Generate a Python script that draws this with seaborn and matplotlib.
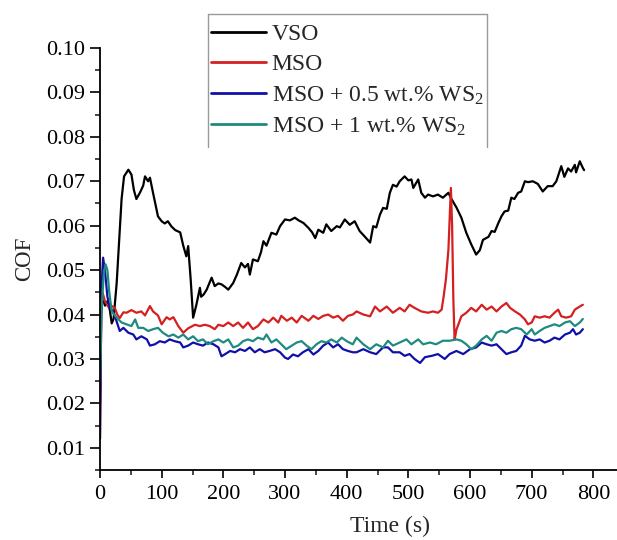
import numpy as np
import pandas as pd
import seaborn as sns
import matplotlib
matplotlib.use('Agg')
import matplotlib.pyplot as plt
from matplotlib.lines import Line2D
from matplotlib.ticker import MultipleLocator

# values (time in s, COF)
vso_t = [0, 2, 4, 8, 12, 16, 19, 22, 27, 35, 39, 46, 51, 55, 59, 65, 70, 73, 78, 81,
         86, 94, 100, 105, 110, 116, 122, 130, 135, 140, 143, 147, 151, 156, 162, 164, 168, 173, 181, 186,
         192, 197, 203, 208, 216, 222, 229, 235, 240, 243, 248, 256, 261, 265, 270, 278, 286, 292, 300, 308,
         316, 322, 330, 338, 344, 349, 354, 362, 367, 375, 384, 389, 397, 405, 413, 421, 429, 438, 443, 448,
         454, 459, 465, 470, 475, 481, 486, 494, 500, 505, 508, 516, 521, 527, 532, 540, 548, 556, 565, 570,
         578, 586, 594, 602, 610, 616, 621, 630, 635, 640, 646, 651, 656, 662, 667, 672, 678, 683, 689, 694,
         702, 710, 718, 726, 734, 740, 748, 753, 759, 764, 770, 772, 778, 783, 785]
vso_cof = [0.020, 0.046, 0.044, 0.042, 0.043, 0.041, 0.038, 0.039, 0.047, 0.066, 0.0711, 0.0726, 0.0715, 0.068, 0.066, 0.0675, 0.069, 0.0711, 0.070, 0.0708,
           0.0674, 0.0621, 0.061, 0.0605, 0.061, 0.0598, 0.059, 0.0585, 0.0555, 0.0531, 0.0554, 0.048, 0.0393, 0.042, 0.046, 0.044, 0.0445, 0.0456, 0.0483, 0.0464,
           0.0470, 0.0468, 0.0462, 0.0456, 0.0471, 0.049, 0.0516, 0.0506, 0.0514, 0.049, 0.0524, 0.052, 0.054, 0.0565, 0.0555, 0.0584, 0.058, 0.0599, 0.0614, 0.0612,
           0.0618, 0.0612, 0.0606, 0.0595, 0.0585, 0.0572, 0.0591, 0.0584, 0.0603, 0.0588, 0.0599, 0.0596, 0.0614, 0.0602, 0.061, 0.0588, 0.0576, 0.0562, 0.0599, 0.0596,
           0.0625, 0.064, 0.0638, 0.0674, 0.0692, 0.0688, 0.070, 0.0711, 0.0702, 0.0704, 0.0685, 0.0704, 0.0674, 0.0663, 0.067, 0.0666, 0.067, 0.0663, 0.0674, 0.066,
           0.0641, 0.0618, 0.0584, 0.0558, 0.0535, 0.0545, 0.0568, 0.0575, 0.0588, 0.0586, 0.0606, 0.0621, 0.0632, 0.0634, 0.0663, 0.066, 0.0674, 0.0677, 0.070, 0.0698,
           0.070, 0.0694, 0.0677, 0.0689, 0.0689, 0.070, 0.0734, 0.071, 0.0729, 0.0722, 0.0737, 0.072, 0.0745, 0.073, 0.0725]

mso_t = [0, 2, 4, 8, 13, 18, 24, 28, 32, 38, 43, 51, 59, 67, 73, 81, 86, 94, 100, 108,
         113, 119, 127, 135, 143, 154, 162, 170, 178, 186, 192, 200, 208, 216, 224, 232, 240, 248, 256, 265,
         273, 281, 289, 294, 303, 311, 319, 327, 338, 346, 354, 362, 370, 378, 386, 394, 402, 410, 416, 427,
         438, 446, 454, 465, 475, 486, 494, 502, 510, 521, 532, 540, 548, 554, 557, 561, 565, 569, 571, 573,
         575, 578, 586, 594, 602, 610, 619, 627, 635, 643, 651, 659, 665, 673, 681, 689, 694, 700, 705, 713,
         721, 729, 737, 743, 748, 756, 764, 770, 778, 783]
mso_cof = [0.012, 0.040, 0.045, 0.043, 0.0418, 0.042, 0.0415, 0.040, 0.0392, 0.0405, 0.0404, 0.041, 0.0404, 0.0407, 0.0398, 0.0419, 0.0407, 0.0398, 0.0378, 0.0394,
           0.0389, 0.0394, 0.0374, 0.0359, 0.0369, 0.0377, 0.0374, 0.0377, 0.0374, 0.0367, 0.0377, 0.0374, 0.0382, 0.0374, 0.0382, 0.0370, 0.0382, 0.0367, 0.0374, 0.0389,
           0.0382, 0.0393, 0.0382, 0.0397, 0.0386, 0.0393, 0.0382, 0.0397, 0.0386, 0.0397, 0.039, 0.0397, 0.040, 0.0393, 0.0397, 0.0386, 0.0397, 0.040, 0.0407, 0.040,
           0.0396, 0.0418, 0.0407, 0.0418, 0.0404, 0.0415, 0.0407, 0.0422, 0.0415, 0.0407, 0.0404, 0.0407, 0.0404, 0.0411, 0.0438, 0.048, 0.0546, 0.0685, 0.060, 0.0434,
           0.0343, 0.0366, 0.0396, 0.0404, 0.0415, 0.0407, 0.0422, 0.0411, 0.0418, 0.0407, 0.0418, 0.0426, 0.0415, 0.0407, 0.040, 0.0389, 0.0378, 0.0382, 0.0396, 0.0393,
           0.0396, 0.0393, 0.0404, 0.0411, 0.0396, 0.0393, 0.0396, 0.0411, 0.0418, 0.0422]

ws05_t = [0, 2, 5, 8, 12, 16, 20, 24, 28, 32, 38, 46, 54, 59, 67, 76, 81, 89, 97, 105,
          113, 121, 130, 135, 143, 151, 159, 167, 175, 184, 192, 197, 202, 211, 219, 227, 235, 243, 251, 259,
          267, 275, 284, 292, 300, 305, 313, 321, 329, 338, 346, 354, 362, 370, 378, 386, 394, 402, 410, 416,
          427, 438, 448, 459, 467, 475, 486, 494, 502, 510, 519, 527, 538, 548, 559, 567, 578, 589, 600, 610,
          619, 627, 635, 643, 651, 659, 667, 675, 683, 689, 697, 705, 713, 721, 729, 737, 745, 754, 762, 767,
          772, 778, 783]
ws05_cof = [0.012, 0.045, 0.0528, 0.050, 0.044, 0.0415, 0.041, 0.0397, 0.038, 0.0363, 0.037, 0.0359, 0.0355, 0.0344, 0.0351, 0.0344, 0.033, 0.0333, 0.034, 0.0337,
            0.0344, 0.034, 0.0337, 0.0326, 0.033, 0.0337, 0.0333, 0.033, 0.0337, 0.0333, 0.0326, 0.0306, 0.031, 0.0318, 0.0315, 0.0322, 0.0318, 0.0326, 0.0315, 0.0322,
            0.0315, 0.0318, 0.0322, 0.0315, 0.0303, 0.030, 0.031, 0.0306, 0.0315, 0.0322, 0.031, 0.0318, 0.033, 0.0337, 0.0326, 0.0333, 0.0322, 0.0318, 0.0315, 0.0315,
            0.0322, 0.0315, 0.0311, 0.0326, 0.0326, 0.0315, 0.0315, 0.0307, 0.0311, 0.030, 0.0291, 0.0304, 0.0307, 0.0311, 0.030, 0.0311, 0.0318, 0.0311, 0.0322, 0.0326,
            0.0337, 0.0333, 0.033, 0.0333, 0.0322, 0.0311, 0.0315, 0.0318, 0.033, 0.0352, 0.0344, 0.0341, 0.0344, 0.0337, 0.0341, 0.0348, 0.0344, 0.0355, 0.0359, 0.0367,
            0.0355, 0.0359, 0.0367]

ws1_t = [0, 3, 6, 9, 12, 15, 19, 23, 27, 35, 43, 51, 57, 62, 70, 78, 86, 94, 102, 111,
         119, 127, 135, 143, 151, 159, 167, 175, 184, 192, 200, 208, 216, 224, 232, 240, 248, 256, 265, 270,
         278, 286, 294, 302, 311, 319, 327, 335, 343, 351, 359, 367, 375, 384, 392, 400, 410, 416, 427, 438,
         448, 459, 467, 475, 486, 497, 505, 516, 524, 535, 545, 556, 567, 578, 586, 594, 602, 610, 619, 627,
         635, 643, 651, 659, 667, 675, 683, 692, 700, 705, 713, 721, 729, 737, 745, 754, 762, 770, 778, 783]
ws1_cof = [0.025, 0.042, 0.049, 0.0513, 0.050, 0.045, 0.0407, 0.040, 0.0393, 0.0382, 0.0378, 0.0374, 0.0389, 0.037, 0.037, 0.0363, 0.0367, 0.037, 0.0359, 0.0351,
           0.0355, 0.0348, 0.0355, 0.0344, 0.0351, 0.034, 0.0344, 0.0333, 0.034, 0.0344, 0.0337, 0.0344, 0.0326, 0.033, 0.034, 0.0344, 0.034, 0.0348, 0.0344, 0.0355,
           0.0337, 0.0344, 0.0333, 0.0322, 0.033, 0.0337, 0.034, 0.033, 0.0322, 0.0333, 0.034, 0.0337, 0.0344, 0.0337, 0.0348, 0.034, 0.0333, 0.0348, 0.0333, 0.0322,
           0.0333, 0.0326, 0.0341, 0.033, 0.0337, 0.0344, 0.0333, 0.0344, 0.0333, 0.0337, 0.0333, 0.0341, 0.0341, 0.0344, 0.0341, 0.0333, 0.0322, 0.033, 0.0344, 0.0352,
           0.0341, 0.0359, 0.0363, 0.0359, 0.0367, 0.037, 0.0367, 0.0355, 0.0367, 0.0355, 0.0363, 0.037, 0.0374, 0.0378, 0.0374, 0.0382, 0.0385, 0.0374, 0.0382, 0.039]

labels = ['VSO', 'MSO', r'MSO + 0.5 wt.% WS$_2$', r'MSO + 1 wt.% WS$_2$']
colors = ['#000000', '#d42020', '#1010a8', '#1f8a80']

parts = []
for lab, t, c in zip(labels, [vso_t, mso_t, ws05_t, ws1_t], [vso_cof, mso_cof, ws05_cof, ws1_cof]):
    parts.append(pd.DataFrame({'Time': t, 'COF': c, 'Sample': lab}))
df = pd.concat(parts, ignore_index=True)

sns.set_style('ticks')
plt.rcParams['font.family'] = ['Liberation Serif', 'DejaVu Serif']
plt.rcParams['mathtext.fontset'] = 'custom'
plt.rcParams['mathtext.rm'] = 'Liberation Serif'
plt.rcParams['mathtext.it'] = 'Liberation Serif:italic'

fig = plt.figure(figsize=(6.17, 5.4), dpi=100)
ax = fig.add_axes([100 / 617, 70 / 540, 518 / 617, 422 / 540])

sns.lineplot(data=df, x='Time', y='COF', hue='Sample', hue_order=labels,
             palette=dict(zip(labels, colors)), estimator=None, sort=False,
             linewidth=1.6, ax=ax)

ax.set_xlim(0, 840)
ax.set_ylim(0.005, 0.10)
ax.xaxis.set_major_locator(MultipleLocator(100))
ax.xaxis.set_minor_locator(MultipleLocator(50))
ax.yaxis.set_minor_locator(MultipleLocator(0.005))
ax.set_yticks(np.arange(0.01, 0.1001, 0.01))
ax.set_yticklabels([f'{v:.2f}' for v in np.arange(0.01, 0.1001, 0.01)])
ax.tick_params(which='major', direction='out', width=1.2, labelsize=16, colors='black')
ax.tick_params(axis='x', which='major', length=5.5, pad=5.5)
ax.tick_params(axis='y', which='major', length=7.5, pad=3)
ax.tick_params(which='minor', direction='out', length=3.5, width=1.2)
for s in ['top', 'right']:
    ax.spines[s].set_visible(False)
for s in ['left', 'bottom']:
    ax.spines[s].set_linewidth(1.3)
    ax.spines[s].set_color('black')

ax.set_xlabel('Time (s)', fontsize=17)
ax.set_ylabel('COF', fontsize=16.5, labelpad=8)
ax.xaxis.set_label_coords((390 - 100) / 518, -0.108)

handles, labs = ax.get_legend_handles_labels()
ax.get_legend().remove()
leg = fig.legend(handles, labs, loc='upper left', bbox_to_anchor=(202 / 617, 1 - 14 / 540),
                 frameon=False, fontsize=17, handlelength=2.3, handletextpad=0.25,
                 labelspacing=0.38, borderpad=0.4, borderaxespad=0)
for h in leg.get_lines():
    h.set_linewidth(2)

# legend box: grey border on top, left and right only
x0, x1, y0, y1 = 208 / 617, 487 / 617, 1 - 147 / 540, 1 - 14 / 540
for xs, ys in [([x0, x0], [y0, y1]), ([x0, x1], [y1, y1]), ([x1, x1], [y0, y1])]:
    fig.add_artist(Line2D(xs, ys, transform=fig.transFigure, color='#999999', linewidth=1))

fig.savefig('out.png', dpi=100)
